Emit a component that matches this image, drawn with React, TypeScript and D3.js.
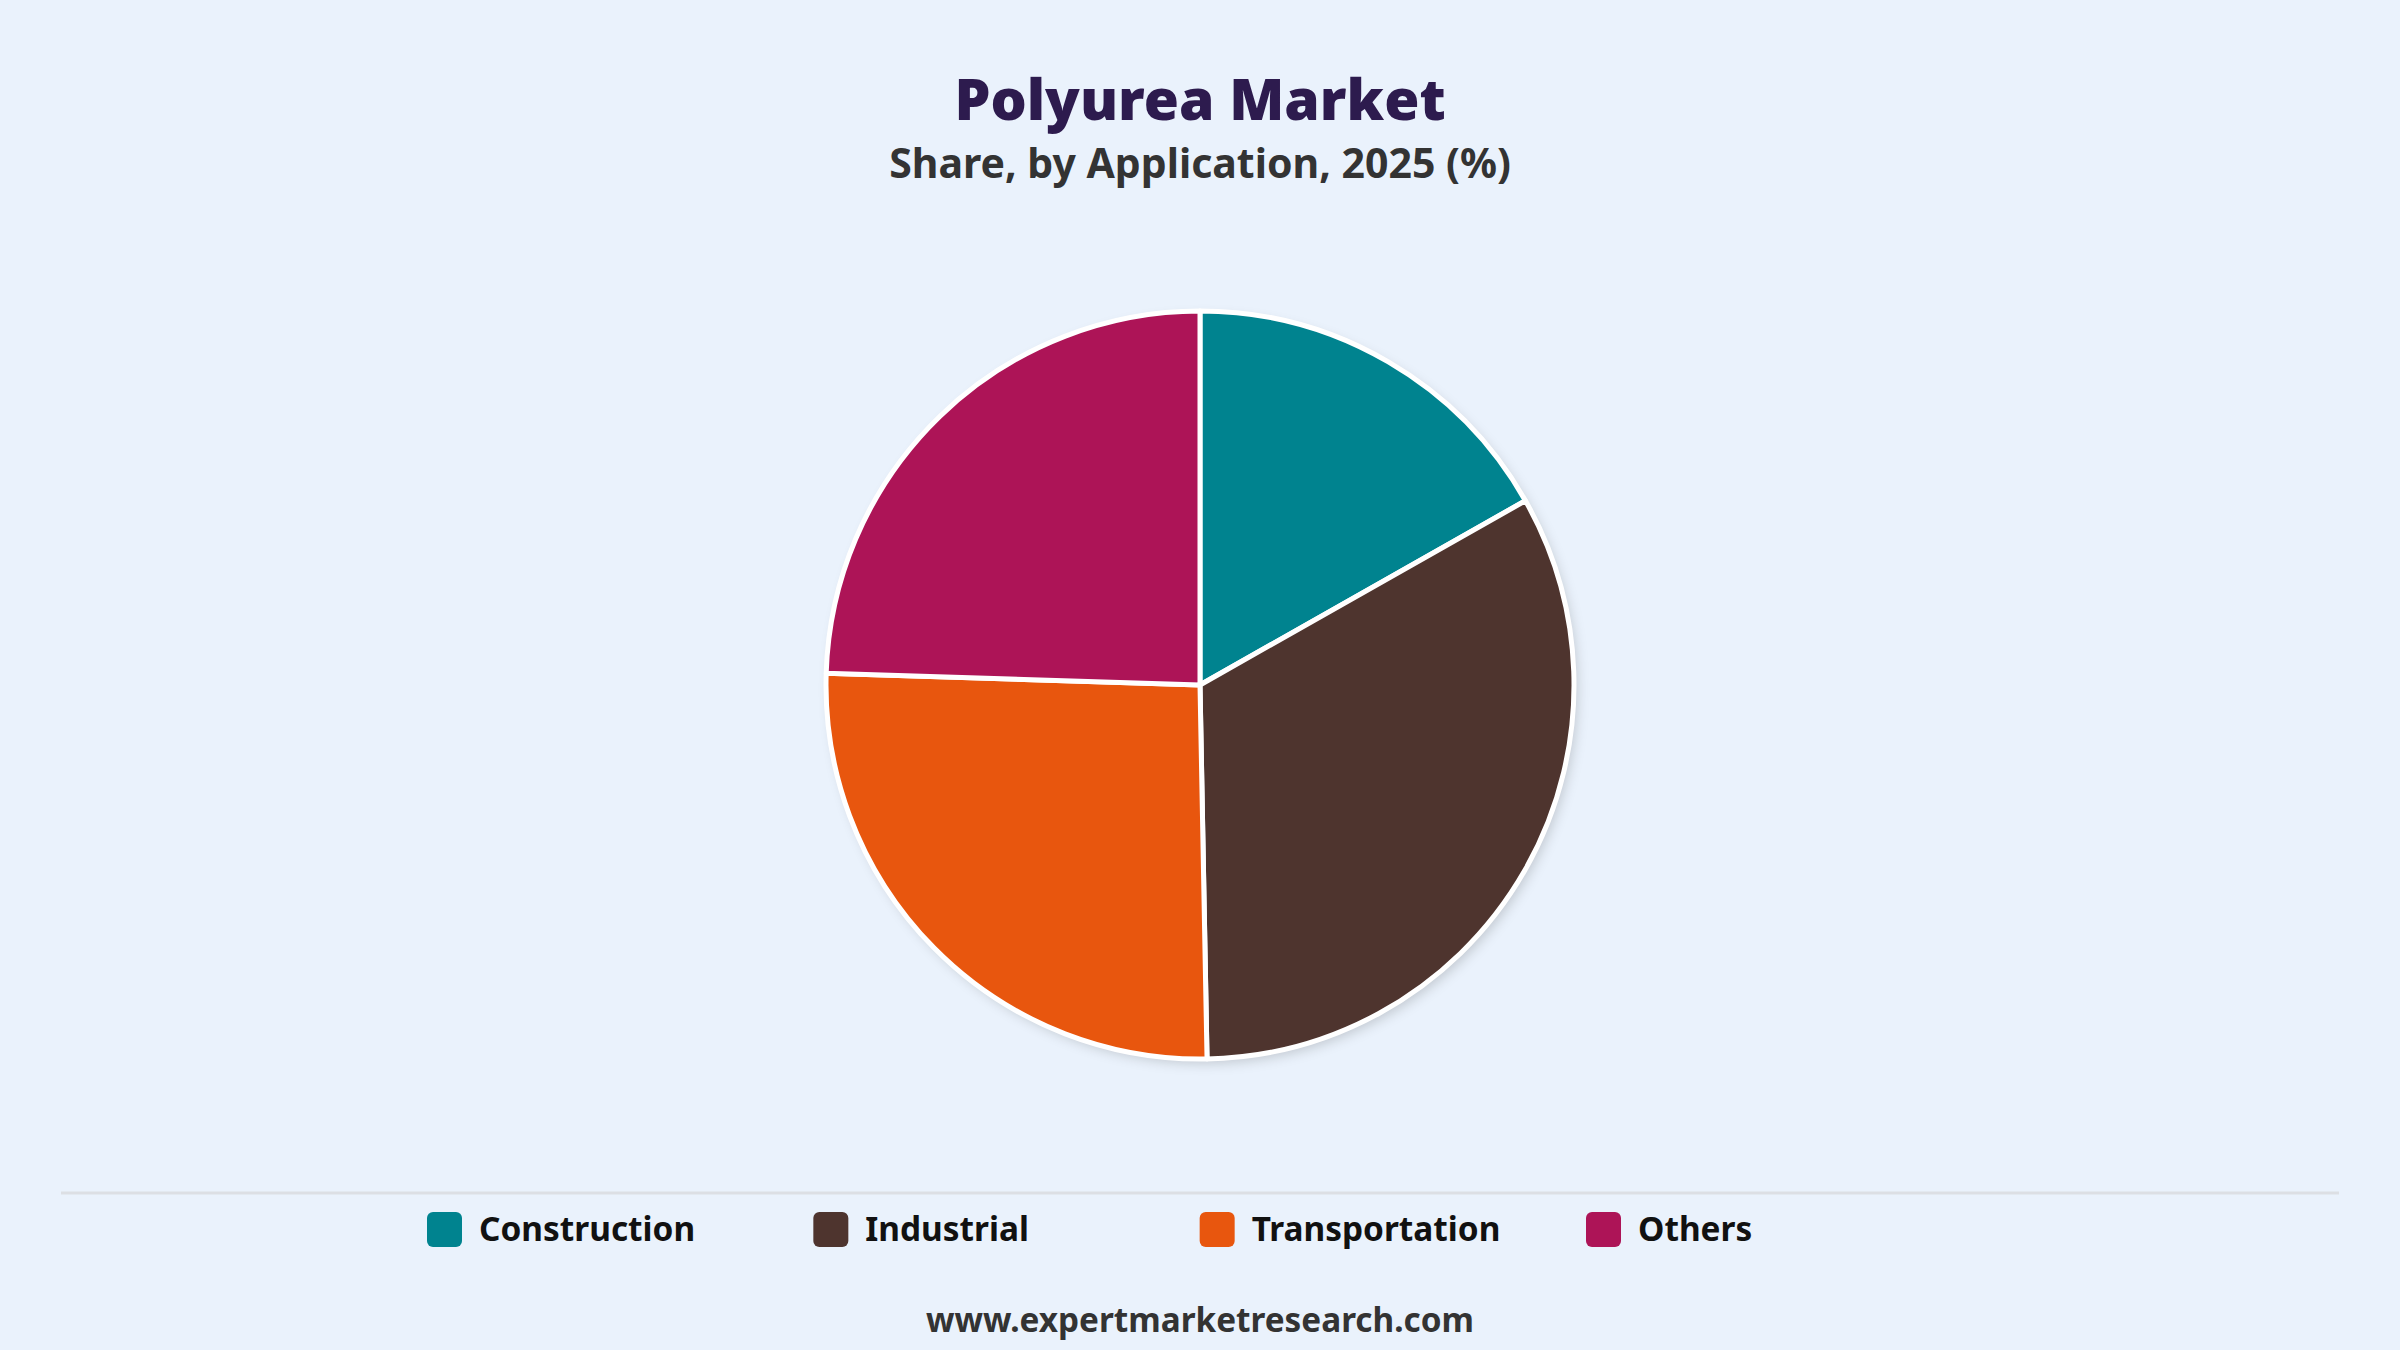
import React, { useEffect, useRef } from "react";
import * as d3 from "d3";

const categories = ["Construction", "Industrial", "Transportation", "Others"];
const shares = [16.8, 32.9, 25.8, 24.5];
const colors = ["#00838f", "#4e342e", "#e8560e", "#ad1457"];
const title = "Polyurea Market";
const subtitle = "Share, by Application, 2025 (%)";
const footer = "www.expertmarketresearch.com";

const W = 2400;
const H = 1350;

export default function App() {
  const ref = useRef<SVGSVGElement | null>(null);

  useEffect(() => {
    const svg = d3.select(ref.current);
    svg.selectAll("*").remove();

    const defs = svg.append("defs");
    const f = defs
      .append("filter")
      .attr("id", "shadow")
      .attr("x", "-20%")
      .attr("y", "-20%")
      .attr("width", "140%")
      .attr("height", "140%");
    f.append("feDropShadow")
      .attr("dx", 4)
      .attr("dy", 5)
      .attr("stdDeviation", 6)
      .attr("flood-color", "#000")
      .attr("flood-opacity", 0.16);

    svg.append("rect").attr("width", W).attr("height", H).attr("fill", "#eaf2fc");

    svg
      .append("text")
      .attr("x", 1200)
      .attr("y", 120)
      .attr("text-anchor", "middle")
      .attr("font-family", "'Noto Sans', sans-serif")
      .attr("font-weight", 900)
      .attr("font-size", 57)
      .attr("fill", "#2d1b4e")
      .text(title);

    svg
      .append("text")
      .attr("x", 1200)
      .attr("y", 178)
      .attr("text-anchor", "middle")
      .attr("font-family", "'Noto Sans', sans-serif")
      .attr("font-weight", 700)
      .attr("font-size", 41)
      .attr("fill", "#333333")
      .text(subtitle);

    const data = categories.map((c, i) => ({ c, v: shares[i], col: colors[i] }));
    const pie = d3.pie<any>().sort(null).value((d) => d.v);
    const r = 374;
    const arc = d3.arc<any>().innerRadius(0).outerRadius(r);
    const g = svg.append("g").attr("transform", "translate(1200,685)");
    g.append("circle").attr("r", r).attr("fill", "#fff").attr("filter", "url(#shadow)");
    g.selectAll("path")
      .data(pie(data))
      .enter()
      .append("path")
      .attr("d", arc as any)
      .attr("fill", (d: any) => d.data.col)
      .attr("stroke", "#ffffff")
      .attr("stroke-width", 5)
      .attr("stroke-linejoin", "round");

    svg
      .append("line")
      .attr("x1", 61)
      .attr("x2", 2339)
      .attr("y1", 1193)
      .attr("y2", 1193)
      .attr("stroke", "#dcdfe4")
      .attr("stroke-width", 3);

    const lx = d3.scaleLinear().domain([0, 3]).range([427, 1586]);
    const lg = svg.append("g");
    data.forEach((d, i) => {
      const x = lx(i);
      lg.append("rect")
        .attr("x", x)
        .attr("y", 1212)
        .attr("width", 35)
        .attr("height", 35)
        .attr("rx", 6)
        .attr("fill", d.col);
      lg.append("text")
        .attr("x", x + 52)
        .attr("y", 1241)
        .attr("font-family", "'Noto Sans', sans-serif")
        .attr("font-weight", 700)
        .attr("font-size", 33.4)
        .attr("fill", "#111111")
        .text(d.c);
    });

    svg
      .append("text")
      .attr("x", 1200)
      .attr("y", 1332)
      .attr("text-anchor", "middle")
      .attr("font-family", "'Noto Sans', sans-serif")
      .attr("font-weight", 700)
      .attr("font-size", 33.3)
      .attr("fill", "#333333")
      .text(footer);
  }, []);

  return (
    <svg
      ref={ref}
      width={W}
      height={H}
      viewBox={`0 0 ${W} ${H}`}
      style={{ position: "absolute", left: 0, top: 0, display: "block" }}
    />
  );
}
